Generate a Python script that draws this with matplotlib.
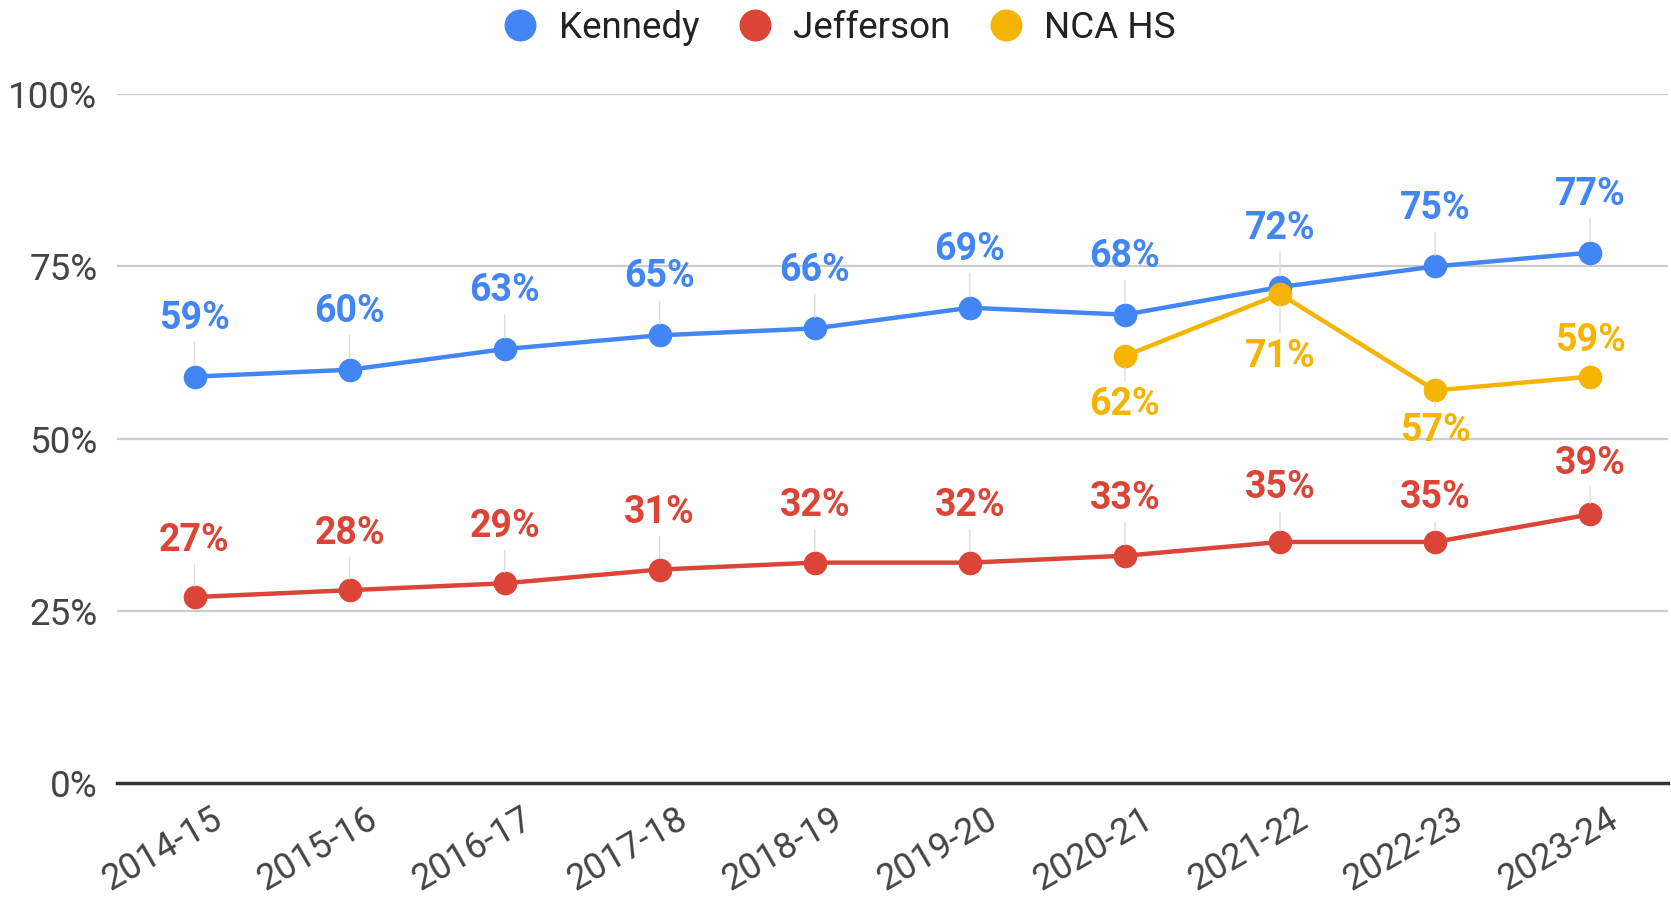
import numpy as np
import matplotlib
matplotlib.use('Agg')
import matplotlib.pyplot as plt
from matplotlib.lines import Line2D
from matplotlib.transforms import ScaledTranslation

plt.rcParams['font.family'] = ['Roboto', 'DejaVu Sans']

years = ['2014-15', '2015-16', '2016-17', '2017-18', '2018-19',
         '2019-20', '2020-21', '2021-22', '2022-23', '2023-24']
kennedy = [59, 60, 63, 65, 66, 69, 68, 72, 75, 77]
jefferson = [27, 28, 29, 31, 32, 32, 33, 35, 35, 39]
nca_hs = [np.nan, np.nan, np.nan, np.nan, np.nan, np.nan, 62, 71, 57, 59]

names = ['Kennedy', 'Jefferson', 'NCA HS']
colors = ['#4285F4', '#DB4437', '#F4B400']

# label offsets (points, vertical) so labels dodge each other like the original
off_k = [42] * 10
off_j = [41, 41, 41, 41, 41, 41, 41, 39, 32, 37]
off_n = [0, 0, 0, 0, 0, 0, -35, -45, -29, 26]

fig = plt.figure(figsize=(16.71, 8.97), dpi=100)
ax = fig.add_axes([0.070, 0.127, 0.928, 0.768])

x = np.arange(len(years))
series = [kennedy, jefferson, nca_hs]
offsets = [off_k, off_j, off_n]

for vals, c, offs in zip(series, colors, offsets):
    ax.plot(x, vals, color=c, lw=3.2, marker='o', ms=16, zorder=3)
    for xi, v, o in zip(x, vals, offs):
        if np.isnan(v):
            continue
        ax.annotate(f'{v}%', xy=(xi, v), xytext=(0, o), textcoords='offset points',
                    ha='center', va='center', color=c, fontsize=27, fontweight='bold',
                    zorder=4,
                    arrowprops=dict(arrowstyle='-', color='#dddddd', lw=1,
                                    shrinkA=2, shrinkB=8))

for g in [25, 50, 75, 100]:
    ax.axhline(g, color='#cccccc', lw=1.6, zorder=1)
ax.axhline(0, color='#333333', lw=2.5, zorder=2, clip_on=False)

ax.set_xlim(-0.5, len(years) - 0.5)
ax.set_ylim(0, 100)
ax.set_yticks([0, 25, 50, 75, 100])
ax.set_yticklabels([f'{t}%' for t in [0, 25, 50, 75, 100]])
ax.set_xticks(x)
ax.set_xticklabels(years, rotation=30, ha='right', rotation_mode='anchor')
ax.tick_params(axis='both', length=0, labelsize=26.5, labelcolor='#444444')
ax.tick_params(axis='y', pad=14)
ax.tick_params(axis='x', pad=13)
for lab in ax.get_xticklabels():
    lab.set_fontsize(26)
    lab.set_transform(lab.get_transform() + ScaledTranslation(0.16, 0, fig.dpi_scale_trans))
for s in ax.spines.values():
    s.set_visible(False)

handles = [Line2D([], [], ls='none', marker='o', ms=22, color=c) for c in colors]
fig.legend(handles, names, loc='center', bbox_to_anchor=(0.502, 0.969), ncol=3,
           frameon=False, fontsize=26.5, handlelength=1, handletextpad=0.55,
           columnspacing=1.0, labelcolor='#222222')

fig.savefig('out.png', dpi=100)
